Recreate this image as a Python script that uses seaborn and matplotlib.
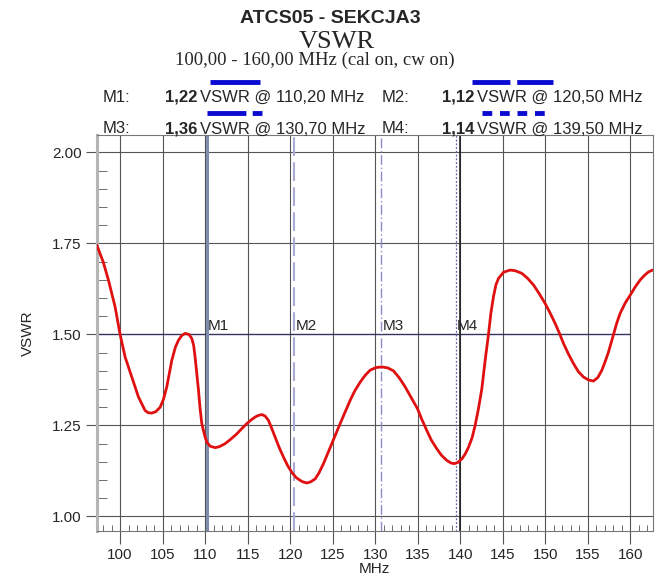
import numpy as np
import pandas as pd
import matplotlib
matplotlib.use("Agg")
import matplotlib.pyplot as plt
import seaborn as sns
from matplotlib.lines import Line2D
from matplotlib.ticker import MultipleLocator

# VSWR sweep
freq = [97.25, 98.00, 98.62, 99.41, 100.00, 100.59, 101.37, 102.16, 102.94, 103.30,
        103.72, 104.20, 104.71, 105.10, 105.49, 106.08, 106.50, 106.86, 107.25, 107.65,
        108.10, 108.43, 108.65, 108.82, 109.00, 109.22, 109.40, 109.61, 109.80, 110.00,
        110.20, 110.60, 111.18, 111.70, 112.35, 113.00, 113.73, 114.30, 114.90, 115.40,
        115.88, 116.20, 116.67, 117.05, 117.45, 117.80, 118.24, 118.70, 119.22, 119.70,
        120.20, 120.70, 121.18, 121.50, 121.96, 122.40, 122.94, 123.40, 123.92, 124.40,
        124.90, 125.40, 125.88, 126.50, 127.06, 127.60, 128.24, 128.80, 129.41, 130.10,
        130.78, 131.50, 132.16, 132.80, 133.53, 134.20, 134.98, 135.50, 136.08, 136.60,
        137.25, 137.80, 138.43, 138.90, 139.29, 139.70, 140.20, 140.60, 140.98, 141.40,
        141.76, 142.15, 142.55, 142.94, 143.33, 143.62, 143.92, 144.20, 144.51, 145.10,
        145.88, 146.50, 147.25, 147.90, 148.63, 149.30, 150.00, 150.60, 151.18, 151.70,
        152.16, 152.70, 153.33, 153.90, 154.51, 155.10, 155.69, 156.20, 156.67, 157.05,
        157.45, 157.75, 158.04, 158.40, 158.82, 159.40, 160.00, 160.60, 161.18, 161.70,
        162.16, 162.65]
vswr = [1.746, 1.700, 1.650, 1.576, 1.500, 1.438, 1.383, 1.328, 1.291, 1.285,
        1.284, 1.288, 1.300, 1.322, 1.356, 1.429, 1.465, 1.484, 1.497, 1.503,
        1.500, 1.489, 1.470, 1.438, 1.398, 1.347, 1.298, 1.255, 1.236, 1.218,
        1.204, 1.193, 1.189, 1.192, 1.200, 1.212, 1.227, 1.241, 1.255, 1.265,
        1.273, 1.277, 1.280, 1.276, 1.264, 1.244, 1.218, 1.190, 1.163, 1.140,
        1.121, 1.107, 1.099, 1.095, 1.092, 1.095, 1.103, 1.120, 1.145, 1.172,
        1.200, 1.228, 1.255, 1.289, 1.319, 1.345, 1.369, 1.387, 1.402, 1.409,
        1.411, 1.408, 1.400, 1.382, 1.356, 1.328, 1.296, 1.266, 1.236, 1.210,
        1.186, 1.168, 1.154, 1.147, 1.145, 1.148, 1.158, 1.172, 1.190, 1.216,
        1.250, 1.296, 1.351, 1.429, 1.500, 1.560, 1.604, 1.636, 1.654, 1.671,
        1.677, 1.675, 1.668, 1.655, 1.636, 1.612, 1.585, 1.558, 1.530, 1.502,
        1.475, 1.448, 1.420, 1.398, 1.383, 1.375, 1.372, 1.382, 1.402, 1.425,
        1.452, 1.476, 1.500, 1.530, 1.558, 1.586, 1.608, 1.631, 1.650, 1.663,
        1.672, 1.677]

# markers
marker_names = ["M1", "M2", "M3", "M4"]
marker_freq = [110.20, 120.50, 130.70, 139.50]
marker_vswr = ["1,22", "1,12", "1,36", "1,14"]
marker_freq_txt = ["110,20", "120,50", "130,70", "139,50"]

df = pd.DataFrame({"MHz": freq, "VSWR": vswr})

sns.set_style("white")
plt.rcParams["font.family"] = ["Liberation Sans", "DejaVu Sans"]

fig = plt.figure(figsize=(6.63, 5.78), dpi=100)
ax = fig.add_axes([0.1459, 0.0813, 0.8386, 0.6851])

ax.set_xlim(97.25, 162.65)
ax.set_ylim(0.96, 2.048)

# grid
for x in range(100, 165, 5):
    ax.axvline(x, color="#555555", lw=0.8, zorder=1)
for y in [1.00, 1.25, 1.75, 2.00]:
    ax.axhline(y, color="#555555", lw=0.8, zorder=1)
ax.hlines(1.50, 97.25, 160, color="#33335e", lw=1.0, zorder=1)

# marker lines
mstyles = [dict(ls="-", color="#7f8cab", lw=2.2),
           dict(ls=(0, (9, 3)), color="#a9aad6", lw=1.5),
           dict(ls=(0, (7, 2, 1, 2)), color="#8c8cc8", lw=1.0),
           dict(ls=(0, (1.5, 1.5)), color="#6464a8", lw=0.9)]
for mf, st in zip(marker_freq, mstyles):
    ax.axvline(mf, zorder=2, **st)
ax.axvline(140, color="#222222", lw=1.2, zorder=1)

sns.lineplot(data=df, x="MHz", y="VSWR", sort=False, estimator=None,
             color="#e01010", lw=2.0, ax=ax, zorder=3,
             solid_joinstyle="round", solid_capstyle="round")

for name, mf in zip(marker_names, marker_freq):
    ax.text(mf + 0.15, 1.503, name, fontsize=11, ha="left", va="bottom", zorder=4)

ax.xaxis.set_major_locator(MultipleLocator(5))
ax.xaxis.set_minor_locator(MultipleLocator(1))
ax.yaxis.set_minor_locator(MultipleLocator(0.05))
ax.set_yticks([1.00, 1.25, 1.50, 1.75, 2.00])
ax.set_yticklabels(["1.00", "1.25", "1.50", "1.75", "2.00"])
ax.tick_params(axis="x", which="major", direction="out", length=9, color="#555555",
               labelsize=11, pad=3)
ax.tick_params(axis="x", which="minor", direction="in", length=4, color="#555555")
ax.tick_params(axis="y", which="major", direction="out", length=8, color="#555555",
               labelsize=11, pad=3)
ax.tick_params(axis="y", which="minor", direction="in", length=7, color="#555555")
ax.tick_params(bottom=True, left=True, which="both")

ax.set_xlabel("MHz", fontsize=11, labelpad=0)
ax.set_ylabel("VSWR", fontsize=11, labelpad=12)

for s in ["top", "right", "bottom"]:
    ax.spines[s].set_color("#777777")
    ax.spines[s].set_linewidth(0.8)
ax.spines["left"].set_color("#b5b5b5")
ax.spines["left"].set_linewidth(2.2)

# header
fig.text(0.498, 0.968, "ATCS05 - SEKCJA3", ha="center", va="center",
         fontsize=14, fontweight="bold")
fig.text(0.508, 0.928, "VSWR", ha="center", va="center", fontsize=19,
         family="Liberation Serif")
fig.text(0.475, 0.895, "100,00 - 160,00 MHz (cal on, cw on)", ha="center", va="center",
         fontsize=13.5, family="Liberation Serif")

rows_y = [0.832, 0.832, 0.777, 0.777]
name_x = [0.155, 0.575, 0.155, 0.575]
val_x = [0.297, 0.715, 0.297, 0.715]
for i in range(4):
    fig.text(name_x[i], rows_y[i], marker_names[i] + ":", fontsize=12, va="center")
    fig.text(val_x[i], rows_y[i], marker_vswr[i], fontsize=12, va="center",
             ha="right", fontweight="bold")
    fig.text(val_x[i] + 0.005, rows_y[i],
             "VSWR @ " + marker_freq_txt[i] + " MHz", fontsize=12, va="center")

# line-style samples above the readouts
blue = "#0a0ad0"
samples = [(0.317, 0.392, 0.858, "-"),
           (0.712, 0.834, 0.858, (0, (7.8, 1.4))),
           (0.312, 0.395, 0.804, (0, (8.0, 1.3, 2.1, 1.3))),
           (0.727, 0.822, 0.804, (0, (2.0, 1.6)))]
for x0, x1, y, ls in samples:
    fig.add_artist(Line2D([x0, x1], [y, y], color=blue, lw=3.5, ls=ls,
                          solid_capstyle="butt", dash_capstyle="butt"))

plt.savefig("out.png", dpi=100)
